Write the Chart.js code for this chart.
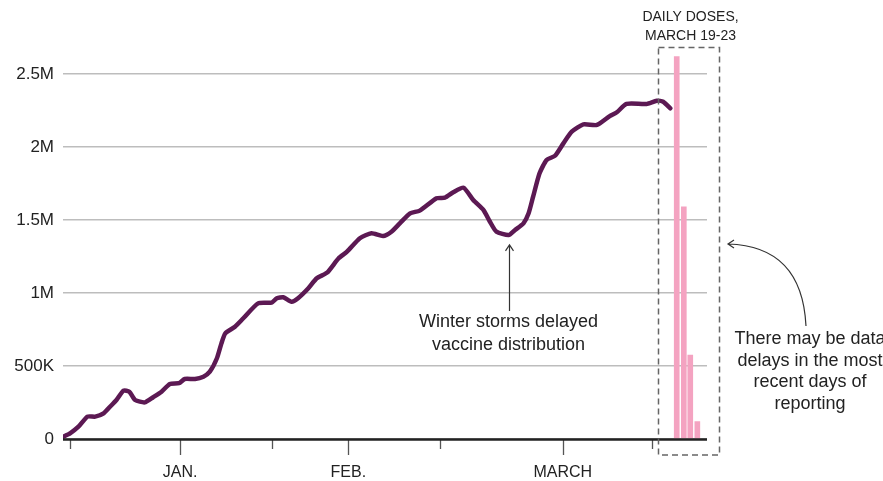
<!DOCTYPE html>
<html lang="en">
<head>
  <meta charset="UTF-8">
  <title>Daily vaccine doses</title>
  <script src="https://cdn.jsdelivr.net/npm/chart.js"></script>
  <style>
    html, body { margin: 0; padding: 0; background: #fff; }
    #wrap { width: 883px; height: 481px; position: relative; }
  </style>
</head>
<body>
  <div id="wrap"><canvas id="grafico" width="883" height="481"></canvas></div>

  <script>
    // x is a position along the time axis (0 = mid-December, 100 = right end)
    const lineX = [0, 1.1, 2.4, 3.8, 5.0, 6.3, 7.3, 8.3, 9.4, 10.3, 11.2, 12.7, 14.0, 15.3, 16.6, 18.0, 18.9, 20.5, 21.8, 22.8,
      23.9, 24.6, 25.2, 26.7, 28.0, 30.3, 32.4, 33.2, 34.2, 35.5, 36.5, 38.1, 39.4, 41.0, 42.8, 44.1, 46.1, 47.9, 49.7, 51.0,
      52.3, 53.9, 55.4, 58.0, 59.3, 60.6, 62.2, 63.7, 65.3, 66.3, 67.3, 69.2, 70.2, 71.5, 72.3, 73.0, 74.0, 75.1, 76.4, 77.7,
      79.0, 80.8, 82.9, 84.9, 86.0, 87.5, 90.6, 92.2, 93.2, 94.3];
    const lineDoses = [15000, 39000, 84000, 153000, 153000, 176000, 221000, 267000, 331000, 324000, 267000, 251000, 286000, 324000, 377000, 382000, 411000, 411000, 427000, 461000,
      553000, 655000, 724000, 769000, 827000, 929000, 934000, 964000, 971000, 940000, 964000, 1032000, 1101000, 1139000, 1238000, 1283000, 1375000, 1409000, 1390000, 1420000,
      1477000, 1546000, 1564000, 1649000, 1653000, 1690000, 1721000, 1637000, 1568000, 1488000, 1420000, 1397000, 1432000, 1477000, 1546000, 1660000, 1820000, 1911000, 1940000, 2025000,
      2105000, 2155000, 2151000, 2212000, 2238000, 2295000, 2295000, 2317000, 2310000, 2265000];

    const barX = [95.3, 96.4, 97.4, 98.5];
    const barDoses = [2620000, 1590000, 575000, 120000];

    const xTicks = [1.1, 18.2, 32.5, 44.3, 58.5, 77.6, 91.5];
    const xTickLabels = ['', 'JAN.', '', 'FEB.', '', 'MARCH', ''];
    const yTicks = [0, 500000, 1000000, 1500000, 2000000, 2500000];
    const yTickLabels = ['0', '500K', '1M', '1.5M', '2M', '2.5M'];

    const FONT = '"Liberation Sans", Arial, sans-serif';
    const INK = '#222';

    // axis line, tick marks and the notes
    const notas = {
      id: 'notas',
      afterDraw(chart) {
        const ctx = chart.ctx;
        const x = chart.scales.x, y = chart.scales.y;
        const area = chart.chartArea;
        ctx.save();

        // tick marks
        ctx.strokeStyle = '#555';
        ctx.lineWidth = 1.3;
        xTicks.forEach((v, i) => {
          const px = Math.round(x.getPixelForValue(v)) + 0.5;
          const len = xTickLabels[i] ? 16 : 10;
          ctx.beginPath();
          ctx.moveTo(px, area.bottom);
          ctx.lineTo(px, area.bottom + len);
          ctx.stroke();
        });

        // axis line
        ctx.strokeStyle = INK;
        ctx.lineWidth = 2.5;
        ctx.beginPath();
        ctx.moveTo(area.left, area.bottom + 0.5);
        ctx.lineTo(area.right, area.bottom + 0.5);
        ctx.stroke();

        // dashed box around the daily bars
        const bl = Math.round(x.getPixelForValue(92.4)) + 0.5;
        const bt = Math.round(y.getPixelForValue(2685000)) + 0.5;
        ctx.strokeStyle = '#666';
        ctx.lineWidth = 1.5;
        ctx.setLineDash([6, 4]);
        ctx.strokeRect(bl, bt, 61, area.bottom + 16 - bt);
        ctx.setLineDash([]);

        ctx.fillStyle = INK;
        ctx.textAlign = 'center';
        ctx.textBaseline = 'middle';

        ctx.font = '14px ' + FONT;
        ctx.fillText('DAILY DOSES,', bl + 32, 17);
        ctx.fillText('MARCH 19-23', bl + 32, 36);

        // winter storm note
        const sx = Math.round(x.getPixelForValue(69.2)) + 0.5;
        const sTop = y.getPixelForValue(1330000);
        ctx.strokeStyle = '#333';
        ctx.lineWidth = 1.2;
        ctx.beginPath();
        ctx.moveTo(sx, 311);
        ctx.lineTo(sx, sTop);
        ctx.moveTo(sx - 4, sTop + 6);
        ctx.lineTo(sx, sTop);
        ctx.lineTo(sx + 4, sTop + 6);
        ctx.stroke();

        ctx.font = '18px ' + FONT;
        ctx.fillText('Winter storms delayed', sx - 1, 322);
        ctx.fillText('vaccine distribution', sx - 1, 345);

        // data delay note
        ctx.beginPath();
        ctx.moveTo(806, 326);
        ctx.quadraticCurveTo(802, 246, 728, 244);
        ctx.moveTo(734, 240);
        ctx.lineTo(728, 244);
        ctx.lineTo(734, 248);
        ctx.stroke();

        ['There may be data', 'delays in the most', 'recent days of', 'reporting']
          .forEach((t, i) => ctx.fillText(t, 810, 339 + i * 21.7));

        ctx.restore();
      }
    };

    new Chart(document.getElementById('grafico'), {
      type: 'line',
      data: {
        datasets: [
          {
            type: 'line',
            label: '7-day average',
            data: lineX.map((v, i) => ({ x: v, y: lineDoses[i] })),
            borderColor: '#5c1953',
            borderWidth: 4.5,
            pointRadius: 0,
            tension: 0.2,
            borderCapStyle: 'round',
            borderJoinStyle: 'round',
            fill: false,
            order: 1
          },
          {
            type: 'bar',
            label: 'Daily doses',
            data: barX.map((v, i) => ({ x: v, y: barDoses[i] })),
            backgroundColor: '#f4a3c1',
            barThickness: 5,
            order: 2
          }
        ]
      },
      options: {
        responsive: false,
        animation: false,
        layout: { padding: { top: 37.5, right: 176, left: 0, bottom: 0 } },
        plugins: {
          legend: { display: false },
          tooltip: { enabled: false }
        },
        scales: {
          x: {
            type: 'linear',
            min: 0,
            max: 100,
            offset: false,
            grid: { display: false },
            border: { display: false },
            afterBuildTicks: s => { s.ticks = xTicks.map(v => ({ value: v })); },
            afterFit: s => { s.height = 42; },
            ticks: {
              autoSkip: false,
              maxRotation: 0,
              padding: 16,
              color: INK,
              font: { family: FONT, size: 16 },
              callback: (v, i) => xTickLabels[i]
            }
          },
          y: {
            min: 0,
            max: 2750000,
            grid: { color: '#bdbdbd', lineWidth: 1.5, drawTicks: false },
            border: { display: false },
            afterBuildTicks: s => { s.ticks = yTicks.map(v => ({ value: v })); },
            afterFit: s => { s.width = 63; },
            ticks: {
              padding: 9,
              color: INK,
              font: { family: FONT, size: 17 },
              callback: (v, i) => yTickLabels[i]
            }
          }
        }
      },
      plugins: [notas]
    });
  </script>
</body>
</html>
